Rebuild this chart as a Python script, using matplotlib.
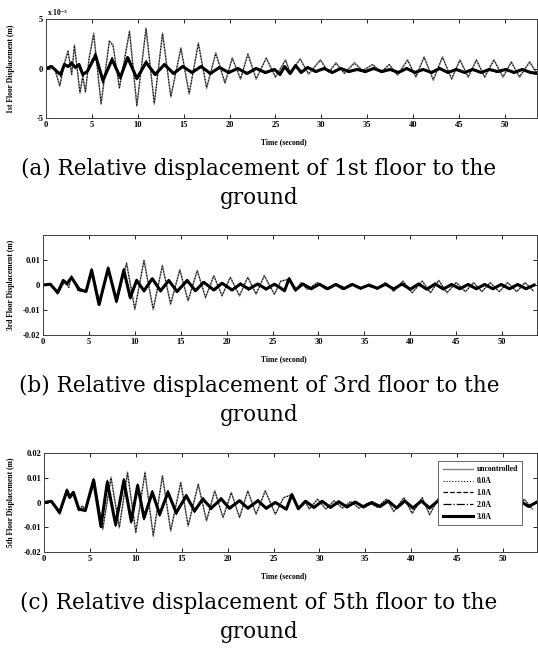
import numpy as np
import matplotlib
matplotlib.use("Agg")
import matplotlib.pyplot as plt

plt.rcParams["axes.unicode_minus"] = False
plt.rcParams["mathtext.default"] = "regular"

# ---- data (displacements in mm) ----
labels = ["uncontrolled", "0.0A", "1.0A", "2.0A", "3.0A"]

# 1st floor
t_a_unc = [0, 0.5, 1.0, 1.5, 2.0, 2.4, 2.8, 3.1, 3.7, 4.0,
           4.3, 4.7, 5.2, 6.0, 6.9, 7.3, 8.0, 9.1, 9.9, 10.9,
           11.8, 12.7, 13.6, 14.7, 15.6, 16.6, 17.5, 18.5, 19.5, 20.3,
           21.2, 22.0, 22.9, 24.0, 25.0, 26.1, 26.6, 27.7, 28.6, 29.9,
           30.8, 31.6, 32.5, 33.6, 34.5, 35.6, 36.5, 37.4, 38.3, 39.4,
           40.3, 41.2, 42.2, 43.2, 44.2, 45.1, 46.0, 46.9, 47.8, 48.8,
           49.8, 50.7, 51.6, 52.7, 53.6]
a_unc = [0, 0.3, -0.2, -1.8, 0.5, 1.8, -0.6, 2.4, -2.5, -0.8,
         -2.4, 1.1, 3.6, -3.6, 2.8, 2.4, -2.0, 3.8, -3.8, 4.1,
         -3.6, 3.6, -2.9, 2.1, -2.6, 2.6, -2.0, 1.6, -1.5, 1.1,
         -1.1, 1.5, -1.1, 1.1, -0.9, 0.9, -0.4, 1.0, -0.6, 0.9,
         -0.4, 0.6, -0.5, 0.6, -0.2, 0.4, -0.4, 0.4, -0.7, 0.9,
         -0.9, 1.2, -1.2, 1.2, -1.1, 0.9, -0.9, 0.9, -0.9, 0.9,
         -0.9, 0.7, -0.9, 0.7, -0.7]
a_00 = [0, 0.3, -0.2, -1.7, 0.5, 1.7, -0.6, 2.3, -2.4, -0.8,
        -2.3, 1.0, 3.4, -3.5, 2.7, 2.3, -1.9, 3.7, -3.7, 4.0,
        -3.5, 3.5, -2.8, 2.0, -2.5, 2.5, -1.9, 1.5, -1.4, 1.0,
        -1.0, 1.4, -1.0, 1.0, -0.8, 0.8, -0.4, 0.9, -0.5, 0.8,
        -0.4, 0.5, -0.5, 0.5, -0.2, 0.4, -0.4, 0.4, -0.6, 0.8,
        -0.8, 1.1, -1.1, 1.1, -1.0, 0.8, -0.8, 0.8, -0.8, 0.8,
        -0.8, 0.6, -0.8, 0.6, -0.6]
t_a_ctl = [0, 0.6, 1.2, 1.6, 2.0, 2.4, 2.8, 3.2, 3.6, 4.0,
           4.5, 5.0, 5.4, 6.2, 7.2, 8.1, 8.9, 9.9, 10.9, 11.9,
           12.9, 13.9, 14.9, 15.9, 16.9, 17.9, 18.9, 19.9, 20.9, 21.9,
           22.9, 23.9, 24.9, 25.5, 26.0, 26.6, 27.2, 27.8, 28.5, 29.4,
           30.3, 31.2, 32.1, 33.0, 33.9, 34.8, 35.7, 36.6, 37.5, 38.4,
           39.3, 40.2, 41.1, 42.0, 42.9, 43.8, 44.7, 45.6, 46.5, 47.4,
           48.3, 49.2, 50.1, 51.0, 51.9, 52.8, 53.7]
a_10 = [0, 0.3, -0.4, -0.8, 0.5, 0.3, 0.7, 0.1, 0.5, -0.8,
        -0.4, 0.8, 1.6, -1.5, 1.1, -1.1, 1.3, -1.2, 0.8, -0.8,
        0.5, -0.6, 0.3, -0.5, 0.3, -0.6, 0.2, -0.5, 0.1, -0.6,
        0.1, -0.5, 0.0, -0.7, 0.3, -0.6, 0.4, -0.5, 0.2, -0.4,
        0.1, -0.5, 0.1, -0.4, 0.0, -0.4, 0.1, -0.4, 0.0, -0.5,
        0.1, -0.5, 0.0, -0.5, 0.1, -0.5, 0.0, -0.5, 0.0, -0.5,
        0.0, -0.4, 0.0, -0.5, 0.0, -0.5, -0.6]
a_20 = [0, 0.2, -0.3, -0.7, 0.4, 0.2, 0.6, 0.1, 0.4, -0.7,
        -0.3, 0.7, 1.4, -1.3, 1.0, -1.0, 1.2, -1.1, 0.7, -0.7,
        0.4, -0.5, 0.3, -0.5, 0.2, -0.5, 0.1, -0.5, 0.0, -0.5,
        0.0, -0.5, -0.1, -0.6, 0.2, -0.5, 0.3, -0.5, 0.1, -0.4,
        0.0, -0.4, 0.0, -0.4, -0.1, -0.4, 0.0, -0.4, -0.1, -0.4,
        0.0, -0.4, -0.1, -0.4, 0.0, -0.4, -0.1, -0.4, -0.1, -0.4,
        -0.1, -0.4, -0.1, -0.4, -0.1, -0.4, -0.5]
a_30 = [0, 0.2, -0.3, -0.6, 0.4, 0.2, 0.5, 0.1, 0.4, -0.6,
        -0.3, 0.6, 1.3, -1.2, 0.9, -0.9, 1.1, -1.0, 0.6, -0.6,
        0.4, -0.5, 0.2, -0.4, 0.2, -0.5, 0.1, -0.4, 0.0, -0.5,
        0.0, -0.4, -0.1, -0.6, 0.2, -0.5, 0.3, -0.4, 0.1, -0.3,
        0.0, -0.4, 0.0, -0.3, -0.1, -0.3, 0.0, -0.3, -0.1, -0.4,
        0.0, -0.4, -0.1, -0.4, 0.0, -0.4, -0.1, -0.4, -0.1, -0.4,
        -0.1, -0.3, -0.1, -0.4, -0.1, -0.4, -0.5]

# 3rd floor
t_b_unc = [0, 0.8, 1.6, 2.4, 2.8, 3.1, 3.8, 4.2, 4.6, 5.3,
           6.2, 7.1, 8.0, 9.1, 10.0, 11.0, 12.0, 13.0, 13.9, 14.9,
           15.8, 16.8, 17.7, 18.6, 19.5, 20.4, 21.4, 22.3, 23.2, 24.1,
           25.2, 25.9, 26.8, 27.5, 28.1, 28.8, 29.9, 30.8, 31.7, 32.6,
           33.5, 34.4, 35.3, 36.4, 37.3, 38.2, 39.2, 40.2, 41.3, 42.2,
           43.1, 44.0, 45.0, 46.0, 46.9, 47.8, 48.7, 49.7, 50.6, 51.6,
           52.5, 53.4]
b_unc = [0, 0.4, -3.7, 1.8, -1.0, 3.8, -2.3, -1.5, -3.0, 6.6,
         -7.8, 7.3, -7.1, 8.9, -9.9, 10.0, -9.9, 7.9, -7.8, 6.2,
         -6.4, 5.9, -5.1, 3.8, -4.4, 3.2, -4.4, 3.2, -3.7, 3.8,
         -3.8, 1.6, 2.3, -2.5, 1.0, -1.8, 1.0, -1.8, 0.3, -1.8,
         0.5, -1.4, -0.4, -1.4, 1.0, -2.6, 1.6, -3.2, 1.6, -3.2,
         1.9, -3.2, 1.0, -2.7, 1.0, -2.7, 1.0, -2.7, 1.0, -2.7,
         1.0, -2.4]
b_00 = [0, 0.3, -3.5, 1.6, -1.0, 3.5, -2.1, -1.4, -2.8, 6.2,
        -7.4, 6.9, -6.8, 8.5, -9.5, 9.6, -9.4, 7.5, -7.4, 5.9,
        -6.1, 5.6, -4.9, 3.6, -4.2, 3.0, -4.2, 3.0, -3.5, 3.6,
        -3.6, 1.5, 2.2, -2.4, 0.9, -1.7, 0.9, -1.7, 0.3, -1.7,
        0.4, -1.3, -0.4, -1.3, 0.9, -2.5, 1.5, -3.0, 1.5, -3.0,
        1.8, -3.0, 0.9, -2.6, 0.9, -2.6, 0.9, -2.6, 0.9, -2.6,
        0.9, -2.3]
t_b_ctl = [0, 0.8, 1.6, 2.2, 2.6, 3.1, 4.0, 4.7, 5.3, 6.1,
           7.1, 8.0, 8.8, 9.5, 10.2, 11.0, 11.9, 12.8, 13.7, 14.6,
           15.7, 16.6, 17.5, 18.6, 19.5, 20.6, 21.5, 22.4, 23.4, 24.3,
           25.2, 25.8, 26.3, 26.8, 27.5, 28.3, 29.2, 30.1, 31.0, 31.9,
           32.8, 33.7, 34.6, 35.5, 36.4, 37.3, 38.2, 39.1, 40.0, 40.9,
           41.8, 42.7, 43.6, 44.5, 45.4, 46.3, 47.2, 48.1, 49.0, 49.9,
           50.8, 51.7, 52.6, 53.5]
b_10 = [0, 0.4, -3.3, 2.0, 0.5, 3.3, -2.2, -2.8, 6.4, -8.2,
        7.1, -7.0, 6.5, -5.6, 2.3, -2.8, 3.0, -2.8, 2.3, -3.0,
        2.2, -2.7, 1.5, -2.4, 1.1, -2.4, 0.8, -2.0, 0.8, -2.0,
        0.5, -1.2, -2.6, 2.8, -2.3, 0.7, -1.8, 0.6, -1.8, 0.5,
        -1.7, 0.5, -1.6, 0.3, -1.6, 0.6, -1.9, 0.7, -2.0, 0.7,
        -2.0, 0.7, -1.9, 0.5, -1.8, 0.5, -1.8, 0.5, -1.8, 0.5,
        -1.8, 0.5, -1.8, 0.2]
b_20 = [0, 0.3, -3.1, 1.9, 0.5, 3.1, -2.1, -2.6, 6.1, -8.0,
        6.8, -6.7, 6.2, -5.3, 2.0, -2.5, 2.7, -2.5, 2.0, -2.8,
        2.0, -2.5, 1.3, -2.2, 0.9, -2.2, 0.6, -1.8, 0.6, -1.8,
        0.4, -1.1, -2.4, 2.6, -2.1, 0.5, -1.6, 0.4, -1.6, 0.3,
        -1.5, 0.3, -1.4, 0.1, -1.4, 0.4, -1.7, 0.5, -1.8, 0.5,
        -1.8, 0.5, -1.7, 0.3, -1.6, 0.3, -1.6, 0.3, -1.6, 0.3,
        -1.6, 0.3, -1.6, 0.1]
b_30 = [0, 0.3, -3.0, 1.8, 0.5, 3.0, -2.0, -2.5, 5.9, -7.8,
        6.6, -6.4, 5.9, -5.0, 1.8, -2.3, 2.5, -2.3, 1.8, -2.6,
        1.8, -2.3, 1.1, -2.0, 0.7, -2.0, 0.4, -1.6, 0.4, -1.6,
        0.3, -1.0, -2.3, 2.5, -2.0, 0.4, -1.5, 0.3, -1.5, 0.2,
        -1.4, 0.2, -1.3, 0.0, -1.3, 0.3, -1.6, 0.4, -1.7, 0.4,
        -1.7, 0.4, -1.6, 0.2, -1.5, 0.2, -1.5, 0.2, -1.5, 0.2,
        -1.5, 0.2, -1.5, 0.0]

# 5th floor
t_c_unc = [0, 0.8, 1.7, 2.5, 2.8, 3.1, 3.8, 4.2, 4.5, 5.5,
           6.4, 7.3, 8.2, 9.1, 10.0, 11.0, 11.9, 12.9, 13.8, 14.9,
           15.7, 16.8, 17.7, 18.6, 19.5, 20.4, 21.3, 22.2, 23.1, 24.1,
           25.2, 26.1, 27.0, 27.7, 28.4, 28.9, 29.8, 30.7, 31.6, 32.5,
           33.4, 34.3, 35.4, 36.3, 37.3, 38.1, 39.2, 40.1, 41.2, 42.0,
           43.0, 44.0, 45.0, 46.0, 47.0, 48.0, 49.0, 50.0, 50.9, 51.6,
           52.3, 53.2]
c_unc = [0, 0.8, -4.8, 5.5, 2.7, 4.1, -3.4, -1.4, -3.7, 8.9,
         -11.0, 10.3, -10.3, 12.3, -12.3, 12.3, -13.7, 11.0, -11.6, 8.2,
         -9.6, 7.5, -7.5, 4.8, -6.2, 4.1, -6.2, 4.8, -4.8, 4.8,
         -4.8, 2.0, 3.2, -2.7, 0.7, -2.7, 1.4, -2.7, 0.7, -2.3,
         0.4, -2.3, 0.0, -2.0, 1.4, -3.7, 2.0, -4.5, 2.0, -5.0,
         2.0, -4.5, 2.0, -4.0, 1.5, -4.0, 1.5, -3.5, 1.2, -2.5,
         1.4, -2.7]
c_00 = [0, 0.7, -4.6, 5.2, 2.6, 3.9, -3.2, -1.3, -3.5, 8.5,
        -10.5, 9.8, -9.9, 11.8, -11.8, 11.8, -13.1, 10.6, -11.1, 7.9,
        -9.2, 7.2, -7.2, 4.6, -5.9, 3.9, -5.9, 4.6, -4.6, 4.6,
        -4.6, 1.9, 3.1, -2.6, 0.7, -2.6, 1.3, -2.6, 0.7, -2.2,
        0.4, -2.2, 0.0, -1.9, 1.3, -3.5, 1.9, -4.3, 1.9, -4.8,
        1.9, -4.3, 1.9, -3.8, 1.4, -3.8, 1.4, -3.3, 1.1, -2.4,
        1.3, -2.6]
t_c_ctl = [0, 0.8, 1.7, 2.5, 2.8, 3.2, 3.8, 4.5, 5.4, 6.2,
           6.9, 7.8, 8.7, 9.5, 10.2, 10.9, 11.8, 12.6, 13.5, 14.4,
           15.5, 16.4, 17.3, 18.2, 19.3, 20.2, 21.3, 22.2, 23.3, 24.2,
           25.2, 26.4, 27.0, 27.7, 28.5, 29.4, 30.3, 31.2, 32.1, 33.0,
           33.9, 34.8, 35.7, 36.6, 37.5, 38.4, 39.3, 40.2, 41.1, 42.0,
           42.9, 43.8, 44.7, 45.6, 46.5, 47.4, 48.3, 49.2, 50.1, 51.0,
           51.9, 52.8, 53.7]
c_10 = [0, 0.6, -4.4, 5.2, 2.3, 4.4, -3.0, -3.5, 9.6, -10.4,
        9.0, -9.6, 9.6, -8.3, 7.5, -7.0, 4.8, -5.5, 4.8, -4.8,
        3.3, -4.0, 2.0, -2.9, 2.0, -2.9, 1.2, -2.8, 1.2, -2.8,
        0.4, -3.0, 3.5, -2.8, 0.8, -2.3, 0.8, -2.3, 0.6, -2.1,
        0.5, -2.1, 0.3, -1.9, 0.9, -2.6, 0.9, -2.6, 0.9, -2.6,
        0.9, -2.4, 0.7, -2.1, 0.7, -2.1, 0.7, -2.1, 0.7, -2.1,
        0.7, -1.9, 0.4]
c_20 = [0, 0.5, -4.2, 5.0, 2.1, 4.2, -2.8, -3.3, 9.3, -10.0,
        8.6, -9.2, 9.2, -7.9, 7.1, -6.6, 4.4, -5.1, 4.4, -4.4,
        3.0, -3.7, 1.7, -2.6, 1.7, -2.6, 0.9, -2.5, 0.9, -2.5,
        0.2, -2.8, 3.3, -2.6, 0.6, -2.1, 0.6, -2.1, 0.4, -1.9,
        0.3, -1.9, 0.1, -1.7, 0.7, -2.4, 0.7, -2.4, 0.7, -2.4,
        0.7, -2.2, 0.5, -1.9, 0.5, -1.9, 0.5, -1.9, 0.5, -1.9,
        0.5, -1.7, 0.3]
c_30 = [0, 0.5, -4.0, 4.8, 2.0, 4.1, -2.7, -3.2, 9.0, -9.6,
        8.2, -8.9, 8.9, -7.5, 6.8, -6.2, 4.1, -4.8, 4.1, -4.1,
        2.7, -3.4, 1.4, -2.3, 1.4, -2.3, 0.7, -2.3, 0.7, -2.3,
        0.0, -2.7, 3.2, -2.5, 0.5, -2.0, 0.5, -2.0, 0.3, -1.8,
        0.2, -1.8, 0.0, -1.6, 0.6, -2.2, 0.6, -2.2, 0.6, -2.2,
        0.6, -2.0, 0.4, -1.8, 0.4, -1.8, 0.4, -1.8, 0.4, -1.8,
        0.4, -1.6, 0.2]

x_ticks = [0, 5, 10, 15, 20, 25, 30, 35, 40, 45, 50]

# ---- layout ----
W, H = 538, 649
def px(l, t, r, b):
    return [l / W, 1 - b / H, (r - l) / W, (b - t) / H]

serif = ["Liberation Serif", "DejaVu Serif"]
tick_font = dict(family=serif, weight="bold", size=6)

styles = [dict(color="0.5", lw=1.0, ls="-"),
          dict(color="k", lw=0.8, ls=":"),
          dict(color="k", lw=0.9, ls="--"),
          dict(color="k", lw=0.9, ls="-."),
          dict(color="k", lw=2.2, ls="-")]

panels = [
    dict(rect=(46, 19, 537, 118), xmax=53.5, scale=1.0, ylim=(-5, 5),
         yticks=[-5, 0, 5], ylabels=["-5", "0", "5"],
         t_unc=t_a_unc, unc=a_unc, d00=a_00, t_ctl=t_a_ctl, ctl=[a_10, a_20, a_30],
         ylab="1st Floor Displacement (m)",
         cap="(a) Relative displacement of 1st floor to the"),
    dict(rect=(43, 235, 537, 335), xmax=53.8, scale=1e-3, ylim=(-0.02, 0.02),
         yticks=[-0.02, -0.01, 0, 0.01], ylabels=["-0.02", "-0.01", "0", "0.01"],
         t_unc=t_b_unc, unc=b_unc, d00=b_00, t_ctl=t_b_ctl, ctl=[b_10, b_20, b_30],
         ylab="3rd Floor Displacement (m)",
         cap="(b) Relative displacement of 3rd floor to the"),
    dict(rect=(44, 453, 537, 552), xmax=53.7, scale=1e-3, ylim=(-0.02, 0.02),
         yticks=[-0.02, -0.01, 0, 0.01, 0.02],
         ylabels=["-0.02", "-0.01", "0", "0.01", "0.02"],
         t_unc=t_c_unc, unc=c_unc, d00=c_00, t_ctl=t_c_ctl, ctl=[c_10, c_20, c_30],
         ylab="5th Floor Displacement (m)",
         cap="(c) Relative displacement of 5th floor to the"),
]

fig = plt.figure(figsize=(W / 100, H / 100), dpi=100)

for i, p in enumerate(panels):
    l, t, r, b = p["rect"]
    ax = fig.add_axes(px(l, t, r, b))
    s = p["scale"]
    series = [(p["t_unc"], p["unc"]), (p["t_unc"], p["d00"])] + \
             [(p["t_ctl"], v) for v in p["ctl"]]
    for (tt, vv), st, lab in zip(series, styles, labels):
        ax.plot(tt, np.array(vv) * s, label=lab, solid_joinstyle="round",
                dash_joinstyle="round", **st)
    ax.set_xlim(0, p["xmax"])
    ax.set_ylim(*p["ylim"])
    ax.set_xticks(x_ticks)
    ax.set_xticklabels([str(v) for v in x_ticks], fontdict=tick_font)
    ax.set_yticks(p["yticks"])
    ax.set_yticklabels(p["ylabels"], fontdict=tick_font)
    ax.tick_params(direction="in", top=True, right=True, length=3, width=0.6, pad=2)
    for sp in ax.spines.values():
        sp.set_linewidth(0.7)
        sp.set_color("0.25")
    fig.text(11 / W, 1 - (t + b) / 2 / H, p["ylab"], rotation=90, ha="center",
             va="center", family=serif, weight="bold", size=5.5)
    fig.text(284 / W, 1 - (b + 24) / H, "Time (second)", ha="center",
             va="center", family=serif, weight="bold", size=5.5)
    fig.text(259 / W, 1 - (b + 57) / H, p["cap"], ha="center", va="baseline",
             family="DejaVu Serif", size=15.5)
    fig.text(259 / W, 1 - (b + 86) / H, "ground", ha="center", va="baseline",
             family="DejaVu Serif", size=15.5)
    if i == 0:
        fig.text(47 / W, 1 - 12 / H, "x 10$^{-3}$", ha="left", va="center",
                 family=serif, weight="bold", size=5.5)
    if i == 2:
        leg = ax.legend(loc="upper right", bbox_to_anchor=(0.978, 0.96),
                        prop=dict(family=serif, weight="bold", size=5.5),
                        handlelength=4.0, handletextpad=0.4, labelspacing=0.5,
                        fancybox=False, framealpha=1, edgecolor="0.3",
                        borderpad=0.6)
        leg.get_frame().set_linewidth(0.6)

fig.savefig("out.png", dpi=100)
